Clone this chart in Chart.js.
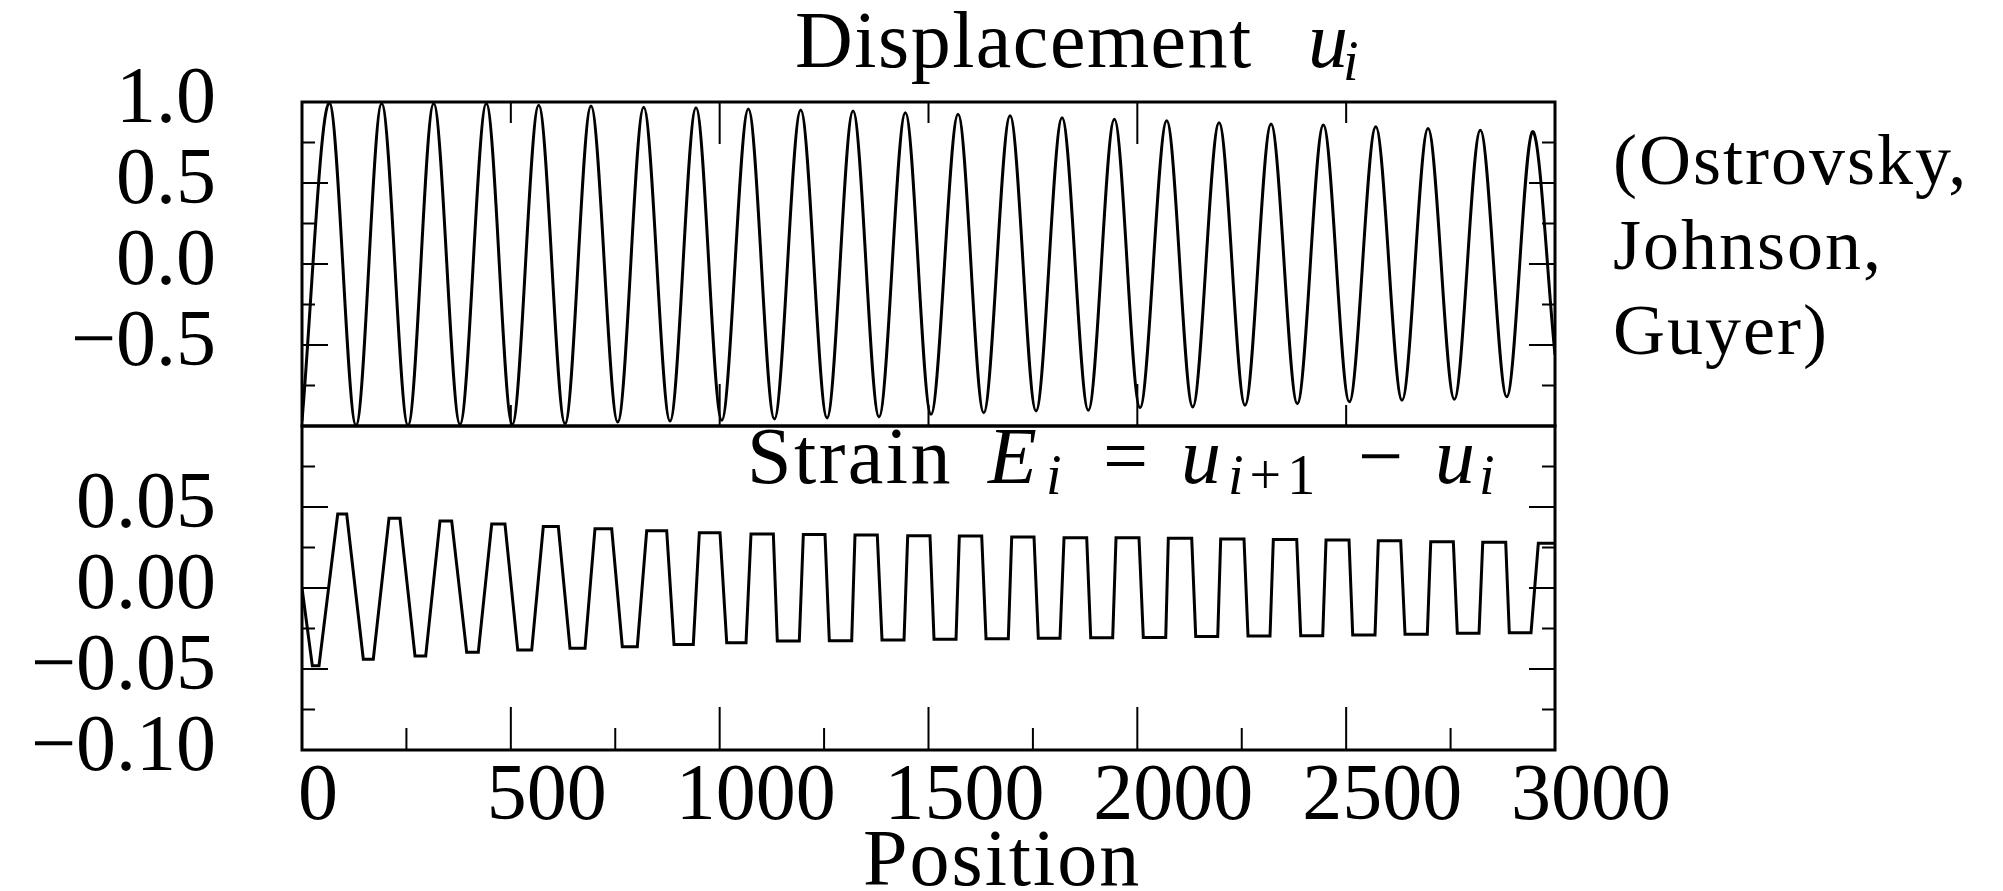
<!DOCTYPE html>
<html>
<head>
<meta charset="utf-8">
<script src="https://cdn.jsdelivr.net/npm/chart.js@4.4.1/dist/chart.umd.min.js"></script>
<style>
  html, body { margin: 0; padding: 0; background: #fff; }
  body { width: 2003px; height: 891px; position: relative; overflow: hidden; }
  #chart { position: absolute; left: 0; top: 0; }
  .t { position: absolute; font-family: 'Liberation Serif', serif; font-size: 80px; line-height: 1; color: #000; white-space: nowrap; }
  .s { font-size: 56px; }
  .it { font-style: italic; }
</style>
</head>
<body>
<canvas id="chart" width="2003" height="891"></canvas>

<div class="t" style="left:795px;top:0;letter-spacing:1.5px">Displacement</div>
<div class="t it" style="left:1308px;top:0">u</div>
<div class="t it s" style="left:1343px;top:33px">i</div>

<div class="t" style="left:747px;top:416px;letter-spacing:2.5px">Strain</div>
<div class="t it" style="left:988px;top:416px">E</div>
<div class="t it s" style="left:1046px;top:447px">i</div>
<div class="t" style="left:1103px;top:416px">=</div>
<div class="t it" style="left:1181px;top:416px">u</div>
<div class="t s" style="left:1228px;top:447px;letter-spacing:6px"><span class="it">i</span>+1</div>
<div class="t" style="left:1358px;top:416px">&minus;</div>
<div class="t it" style="left:1435px;top:416px">u</div>
<div class="t it s" style="left:1479px;top:447px">i</div>

<div class="t" style="left:863px;top:818px;letter-spacing:2px">Position</div>

<div class="t" style="left:1613px;top:118px;font-size:72px;line-height:85px;letter-spacing:2px">(Ostrovsky,<br>Johnson,<br>Guyer)</div>

<script>
// displacement u_i: extrema
var dispPos = [0, 65.4, 129.3, 190.8, 253.8, 315.3, 378.3, 441.3, 503.5, 566.7,
  629.7, 691.9, 755.9, 818.1, 881.1, 943.3, 1004.9, 1068.6, 1131.0, 1194.0,
  1257.0, 1319.3, 1381.5, 1444.5, 1506.0, 1570.7, 1632.2, 1695.2, 1757.4, 1819.7,
  1882.6, 1944.9, 2006.4, 2070.3, 2132.6, 2195.6, 2257.8, 2320.1, 2383.0, 2445.3,
  2507.6, 2570.8, 2633.7, 2696.0, 2758.9, 2821.2, 2884.4, 2945.7, 3000];
var dispVal = [-0.97, 0.996, -0.996, 0.99, -0.996, 0.99, -0.99, 0.99, -0.99, 0.98,
  -0.986, 0.975, -0.975, 0.967, -0.969, 0.965, -0.965, 0.957, -0.957, 0.95,
  -0.95, 0.944, -0.944, 0.934, -0.928, 0.924, -0.918, 0.915, -0.907, 0.903,
  -0.903, 0.893, -0.887, 0.884, -0.882, 0.872, -0.872, 0.864, -0.862, 0.858,
  -0.851, 0.847, -0.841, 0.837, -0.835, 0.826, -0.82, 0.816, -0.56];

// strain E_i: plateau corners (trough start/end, peak start/end) per cycle
var strainPos = [0,
  24.7, 40.7, 85.5, 107.0,
  146.8, 170.7, 208.3, 234.6,
  270.6, 296.2, 330.4, 358.4,
  394.3, 422.1, 454.2, 486.0,
  516.5, 550.0, 577.7, 613.7,
  641.7, 677.6, 701.5, 741.5,
  766.9, 802.8, 825.3, 873.2,
  890.7, 936.9, 951.3, 1000.8,
  1016.9, 1063.1, 1075.0, 1128.5,
  1138.0, 1190.7, 1200.3, 1252.2,
  1262.5, 1316.1, 1324.0, 1377.4,
  1388.7, 1441.4, 1450.2, 1503.6,
  1513.2, 1565.9, 1573.8, 1627.4,
  1637.7, 1691.1, 1699.2, 1752.6,
  1762.9, 1814.9, 1824.5, 1878.8,
  1888.4, 1941.0, 1949.0, 2004.0,
  2014.3, 2068.0, 2074.2, 2130.2,
  2139.8, 2192.5, 2199.6, 2255.4,
  2265.0, 2317.7, 2325.6, 2381.6,
  2391.2, 2443.9, 2451.8, 2506.8,
  2515.7, 2569.1, 2577.0, 2630.6,
  2640.9, 2694.3, 2702.5, 2756.6,
  2766.1, 2818.1, 2827.0, 2882.0,
  2890.6, 2942.6, 2960.1, 3000];
var strainVal = [0,
  -0.048, -0.048, 0.0457, 0.0457,
  -0.044, -0.044, 0.043, 0.043,
  -0.042, -0.042, 0.0414, 0.0414,
  -0.0397, -0.0397, 0.0395, 0.0395,
  -0.0383, -0.0383, 0.0379, 0.0379,
  -0.0372, -0.0372, 0.0366, 0.0366,
  -0.0362, -0.0362, 0.0354, 0.0354,
  -0.0348, -0.0348, 0.0341, 0.0341,
  -0.0338, -0.0338, 0.0333, 0.0333,
  -0.0327, -0.0327, 0.0331, 0.0331,
  -0.0325, -0.0325, 0.0327, 0.0327,
  -0.0321, -0.0321, 0.0323, 0.0323,
  -0.0317, -0.0317, 0.0321, 0.0321,
  -0.0313, -0.0313, 0.0315, 0.0315,
  -0.031, -0.031, 0.031, 0.031,
  -0.0307, -0.0307, 0.031, 0.031,
  -0.0305, -0.0305, 0.0307, 0.0307,
  -0.030, -0.030, 0.0302, 0.0302,
  -0.0296, -0.0296, 0.030, 0.030,
  -0.0294, -0.0294, 0.0296, 0.0296,
  -0.029, -0.029, 0.0292, 0.0292,
  -0.0286, -0.0286, 0.0286, 0.0286,
  -0.028, -0.028, 0.0282, 0.0282,
  -0.0276, -0.0276, 0.0276, 0.0276];

// tick labels
var xTickValues = [0, 500, 1000, 1500, 2000, 2500, 3000];
var xTickLabels = ['0\u2002', '500', '1000', '1500', '2000', '2500', '3000'];
var topTickValues = [1, 0.5, 0, -0.5];
var topTickLabels = ['1.0', '0.5', '0.0', '\u22120.5'];
var botTickValues = [0.05, 0, -0.05, -0.1];
var botTickLabels = ['0.05', '0.00', '\u22120.05', '\u22120.10'];

function pickLabel(values, labels) {
  return function (value) {
    for (var i = 0; i < values.length; i++) {
      if (Math.abs(values[i] - value) < 1e-9) return labels[i];
    }
    return '';
  };
}

function toPoints(xs, ys) {
  return xs.map(function (x, i) { return {x: x, y: ys[i]}; });
}

function isMultiple(v, step) {
  var r = v / step;
  return Math.abs(r - Math.round(r)) < 1e-6;
}

var tickFont = {family: "'Liberation Serif', serif", size: 80, lineHeight: 1};

// box frames + inward tick marks, placed from the chart's own scales
var frameTicks = {
  id: 'frameTicks',
  afterDatasetsDraw: function (chart) {
    var ctx = chart.ctx;
    var x = chart.scales.x, yTop = chart.scales.yTop, yBot = chart.scales.yBot;
    var left = x.left, right = x.right;
    ctx.save();
    ctx.strokeStyle = '#000';
    ctx.lineWidth = 2;
    ctx.beginPath();
    [[yTop, 0.5], [yBot, 0.05]].forEach(function (p) {
      var scale = p[0];
      scale.ticks.forEach(function (t) {
        if (t.value <= scale.min + 1e-9 || t.value >= scale.max - 1e-9) return;
        var len = isMultiple(t.value, p[1]) ? 26 : 13;
        var py = scale.getPixelForValue(t.value);
        ctx.moveTo(left, py); ctx.lineTo(left + len, py);
        ctx.moveTo(right, py); ctx.lineTo(right - len, py);
      });
    });
    x.ticks.forEach(function (t) {
      if (t.value <= x.min || t.value >= x.max) return;
      var px = x.getPixelForValue(t.value);
      var len = isMultiple(t.value, 500) ? 43 : 22;
      ctx.moveTo(px, yBot.bottom); ctx.lineTo(px, yBot.bottom - len);
      if (isMultiple(t.value, 500)) {
        var l2 = isMultiple(t.value, 1000) ? 42 : 21;
        ctx.moveTo(px, yTop.top); ctx.lineTo(px, yTop.top + l2);
        ctx.moveTo(px, yTop.bottom); ctx.lineTo(px, yTop.bottom - l2);
      }
    });
    ctx.stroke();
    ctx.lineWidth = 3;
    ctx.strokeRect(left, yTop.top, right - left, yTop.bottom - yTop.top);
    ctx.strokeRect(left, yBot.top, right - left, yBot.bottom - yBot.top);
    ctx.restore();
  }
};

function yScale(min, max, step, weight, values, labels) {
  return {
    type: 'linear',
    position: 'left',
    stack: 'panels',
    stackWeight: 1,
    weight: weight,
    min: min,
    max: max,
    grid: {display: false},
    border: {display: false},
    ticks: {
      stepSize: step,
      maxTicksLimit: 20,
      autoSkip: false,
      padding: 78,
      labelOffset: -1,
      color: '#000',
      font: tickFont,
      callback: pickLabel(values, labels)
    },
    afterFit: function (s) {
      s.width = 302;
      s.paddingTop = 0;
      s.paddingBottom = 0;
    }
  };
}

new Chart(document.getElementById('chart'), {
  type: 'line',
  data: {
    datasets: [{
      label: 'Displacement',
      data: toPoints(dispPos, dispVal),
      xAxisID: 'x',
      yAxisID: 'yTop',
      borderColor: '#000',
      borderWidth: 3,
      pointRadius: 0,
      tension: 0.33,
      fill: false
    }, {
      label: 'Strain',
      data: toPoints(strainPos, strainVal),
      xAxisID: 'x',
      yAxisID: 'yBot',
      borderColor: '#000',
      borderWidth: 3,
      pointRadius: 0,
      tension: 0,
      fill: false
    }]
  },
  options: {
    responsive: false,
    animation: false,
    devicePixelRatio: 1,
    layout: {padding: {left: 0, top: 102, right: 448, bottom: 0}},
    plugins: {
      legend: {display: false},
      tooltip: {enabled: false}
    },
    scales: {
      x: {
        type: 'linear',
        position: 'bottom',
        min: 0,
        max: 3000,
        grid: {display: false},
        border: {display: false},
        ticks: {
          stepSize: 250,
          maxTicksLimit: 20,
          autoSkip: false,
          maxRotation: 0,
          minRotation: 0,
          padding: 0,
          labelOffset: 36,
          color: '#000',
          font: tickFont,
          callback: pickLabel(xTickValues, xTickLabels)
        },
        afterFit: function (s) { s.height = 141; }
      },
      yTop: yScale(-1, 1, 0.25, 2, topTickValues, topTickLabels),
      yBot: yScale(-0.1, 0.1, 0.025, 1, botTickValues, botTickLabels)
    }
  },
  plugins: [frameTicks]
});
</script>
</body>
</html>
